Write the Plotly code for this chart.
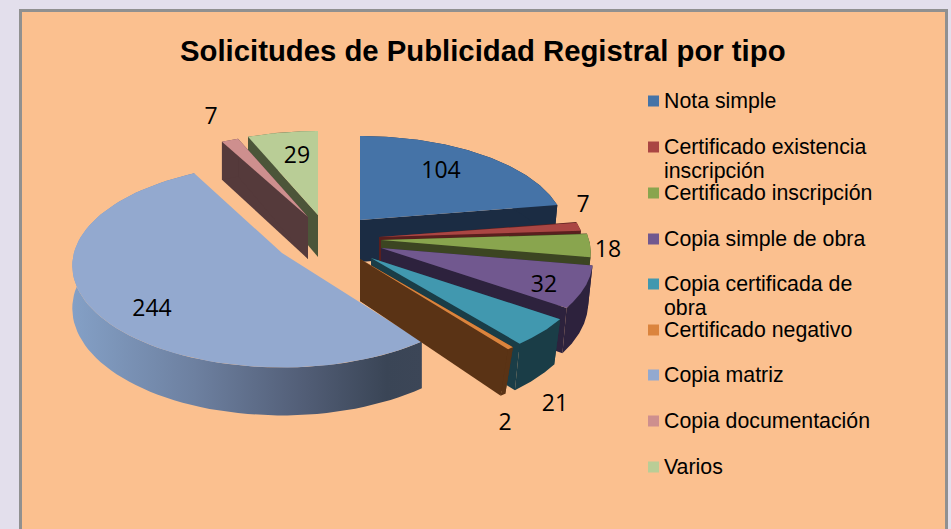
import numpy as np
import plotly.graph_objects as go

# ---- data ----
categories = ["Nota simple", "Certificado existencia<br>inscripción", "Certificado inscripción",
              "Copia simple de obra", "Copia certificada de<br>obra", "Certificado negativo",
              "Copia matriz", "Copia documentación", "Varios"]
values = [104, 7, 18, 32, 21, 2, 244, 7, 29]
title_text = "Solicitudes de Publicidad Registral por tipo"

# ---- style and layout ----
top_colors = ["#4573A7", "#AA4643", "#89A54E", "#71588F", "#4198AF", "#DB843D", "#93A9CF", "#CE8F8E", "#B9CD96"]
wall_colors = ["#1B2C43", "#5A1F1E", "#3C4522", "#2D223D", "#1A3D47", "#5A3315", "#3C4657", "#553A3B", "#4C5539"]
# exploded apex of every slice, and its projected size, in pixels
apex_x = [360, 379, 381, 381, 371, 360, 282, 308, 318]
apex_y = [220, 237, 240, 248, 258, 259, 253, 217, 215]
scale_x = [1, 1, 1.02, 1.03, 1.05, 1.08, 1.02, 1, 1]
scale_y = [1, 1, 1.02, 1.03, 1.05, 1.08, 1.06, 1, 1]
lean = [0.02, 0.02, 0.02, 0.02, 0.03, 0.05, 0, 0, 0]
label_x = [441, 583, 608, 544, 555, 505, 152, 211, 297]
label_y = [172, 206, 251, 286, 405, 424, 310, 118, 157]
legend_y = [101, 147, 193, 239, 284, 330, 375, 421, 467]
R, RY, PERSP, DEPTH, LEAN_X = 204, 94.5, 0.125, 42, 360
draw_order = [8, 7, 6, 0, 1, 2, 3, 4, 5]
blue_gradient = [[0, "#84A0C6"], [0.35, "#6D80A0"], [0.65, "#535F78"], [0.9, "#3A4556"], [1, "#3C4657"]]

total = sum(values)
edges = np.concatenate([[0], np.cumsum(values)]) / total * 2 * np.pi


def project(i, theta, drop=0.0):
    u, v = np.sin(theta), np.cos(theta)
    w = 1 + PERSP * v
    x = apex_x[i] + scale_x[i] * R * u / w
    y = apex_y[i] - scale_y[i] * RY * v / w + drop * DEPTH / w
    return x - drop * lean[i] * (x - LEAN_X), y


fig = go.Figure()


def add_poly(xs, ys, color=None, gradient=None):
    kw = dict(fillgradient=dict(type="horizontal", colorscale=gradient)) if gradient else dict(fillcolor=color)
    fig.add_trace(go.Scatter(x=xs, y=ys, mode="lines", line=dict(width=0), fill="toself",
                             hoverinfo="skip", showlegend=False, **kw))


for i in draw_order:
    th = np.linspace(edges[i], edges[i + 1], 80)
    tx, ty = project(i, th)
    bx, by = project(i, th, 1.0)
    if i == 6:
        add_poly(np.r_[tx, bx[::-1]], np.r_[ty, by[::-1]], gradient=blue_gradient)
    else:
        ax, ay = apex_x[i], apex_y[i]
        for t in (edges[i], edges[i + 1]):
            x0, y0 = project(i, t)
            x1, y1 = project(i, t, 1.0)
            add_poly([ax, x0, x1, ax, ax], [ay, y0, y1, ay + DEPTH, ay], color=wall_colors[i])
        add_poly(np.r_[tx, bx[::-1], tx[0]], np.r_[ty, by[::-1], ty[0]], color=wall_colors[i])
    add_poly(np.r_[apex_x[i], tx, apex_x[i]], np.r_[apex_y[i], ty, apex_y[i]], color=top_colors[i])

# data labels
fig.add_trace(go.Scatter(x=label_x, y=label_y, mode="text", text=[str(v) for v in values],
                         textposition="middle center", hoverinfo="skip", showlegend=False,
                         textfont=dict(family="Open Sans", size=23, color="#000000")))
# legend keys
fig.add_trace(go.Scatter(x=[653.5] * len(values), y=legend_y, mode="markers", hoverinfo="skip", showlegend=False,
                         marker=dict(symbol="square", size=11, color=top_colors, line=dict(width=0))))
for name, y in zip(categories, legend_y):
    for k, line in enumerate(name.split("<br>")):
        fig.add_annotation(x=662.5, y=y + 24 * k, text=line, showarrow=False, xanchor="left", yanchor="middle",
                           align="left", xref="x", yref="y", borderpad=0,
                           font=dict(family="Liberation Sans", size=21.3, color="#000000"))

fig.add_annotation(x=483, y=50, text="<b>" + title_text + "</b>", showarrow=False, xref="x", yref="y",
                   font=dict(family="Liberation Sans", size=29.3, color="#000000"))

fig.update_layout(
    width=951, height=529, margin=dict(l=0, r=0, t=0, b=0), autosize=False,
    paper_bgcolor="#E3DFEC", plot_bgcolor="#E3DFEC", showlegend=False,
    xaxis=dict(range=[0, 951], visible=False, fixedrange=True),
    yaxis=dict(range=[529, 0], visible=False, fixedrange=True),
    shapes=[dict(type="rect", xref="x", yref="y", x0=20.5, y0=10.5, x1=946.5, y1=545,
                 line=dict(color="#909090", width=3), fillcolor="#FBC08F", layer="below")],
)
fig.write_html("out.html", config=dict(displayModeBar=False),
               post_script="document.body.style.margin='0';document.documentElement.style.overflow='hidden';")
